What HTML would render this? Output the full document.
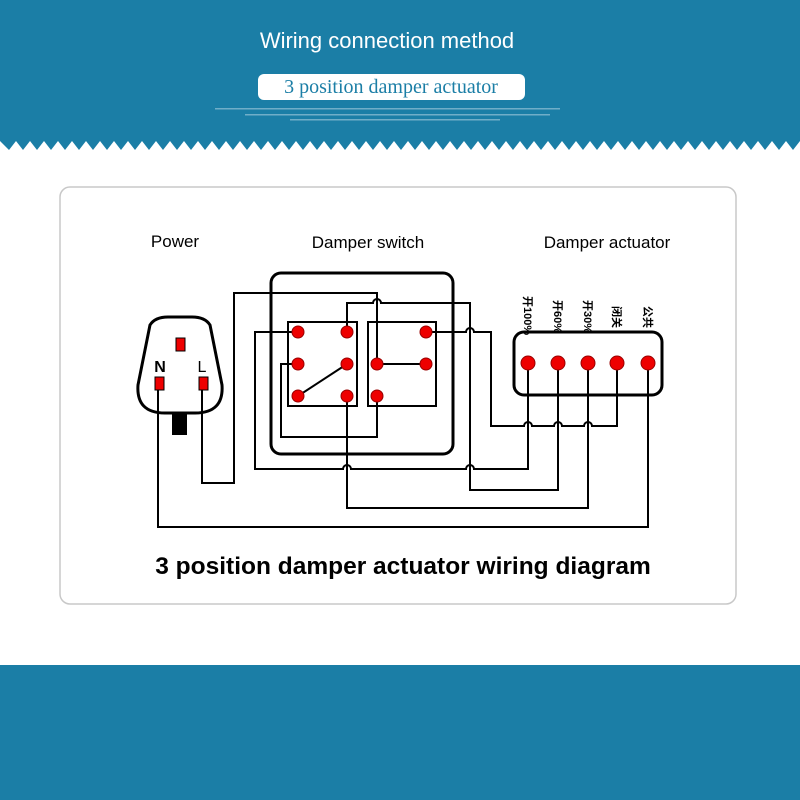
<!DOCTYPE html>
<html><head><meta charset="utf-8"><style>
body{margin:0;width:800px;height:800px;background:#fff;overflow:hidden;font-family:"Liberation Sans",sans-serif}
</style></head><body>
<svg width="800" height="800" xmlns="http://www.w3.org/2000/svg" style="position:absolute;left:0;top:0">
<rect x="0" y="0" width="800" height="141" fill="#1b7ea6"/>
<path id="teeth" d="" fill="#1b7ea6"/>
<g fill="#1b7ea6">
<polygon points="0,140 800,140 800,141 793,150 786,141 779,150 772,141 765,150 758,141 751,150 744,141 737,150 730,141 723,150 716,141 709,150 702,141 695,150 688,141 681,150 674,141 667,150 660,141 653,150 646,141 639,150 632,141 625,150 618,141 611,150 604,141 597,150 590,141 583,150 576,141 569,150 562,141 555,150 548,141 541,150 534,141 527,150 520,141 513,150 506,141 499,150 492,141 485,150 478,141 471,150 464,141 457,150 450,141 443,150 436,141 429,150 422,141 415,150 408,141 401,150 394,141 387,150 380,141 373,150 366,141 359,150 352,141 345,150 338,141 331,150 324,141 317,150 310,141 303,150 296,141 289,150 282,141 275,150 268,141 261,150 254,141 247,150 240,141 233,150 226,141 219,150 212,141 205,150 198,141 191,150 184,141 177,150 170,141 163,150 156,141 149,150 142,141 135,150 128,141 121,150 114,141 107,150 100,141 93,150 86,141 79,150 72,141 65,150 58,141 51,150 44,141 37,150 30,141 23,150 16,141 9,150 0,141"/>
</g>
<rect x="0" y="665" width="800" height="135" fill="#1b7ea6"/>
<text x="387" y="48" font-size="22" fill="#fff" text-anchor="middle">Wiring connection method</text>
<rect x="258" y="74" width="267" height="26" rx="6" fill="#fff"/>
<text x="391" y="93" font-size="20" fill="#1b7ea6" text-anchor="middle" font-family="Liberation Serif,serif">3 position damper actuator</text>
<g fill="#a9cfe0" opacity="0.6"><rect x="215" y="108" width="345" height="1.5"/><rect x="245" y="114" width="305" height="1.5"/><rect x="290" y="119" width="210" height="1.5"/></g>
<rect x="60" y="187" width="676" height="417" rx="10" fill="#fff" stroke="#c8c8c8" stroke-width="1.5"/>
<g font-size="17" fill="#000" text-anchor="middle">
<text x="175" y="247">Power</text><text x="368" y="248">Damper switch</text><text x="607" y="248">Damper actuator</text></g>
<text x="403" y="574" font-size="24.5" font-weight="bold" text-anchor="middle">3 position damper actuator wiring diagram</text>
<path d="M150,325 Q155,317 168,317 L192,317 Q205,317 210,325 L222,385 Q224,413 195,413 L165,413 Q136,413 138,385 Z" fill="#fff" stroke="#000" stroke-width="3"/>
<rect x="172" y="413" width="15" height="22" fill="#000"/>
<g fill="#e00" stroke="#000" stroke-width="1"><rect x="176" y="338" width="9" height="13"/><rect x="155" y="377" width="9" height="13"/><rect x="199" y="377" width="9" height="13"/></g>
<text x="160" y="372" font-size="16" font-weight="bold" text-anchor="middle">N</text>
<text x="202" y="372" font-size="16" text-anchor="middle">L</text>
<rect x="271" y="273" width="182" height="181" rx="10" fill="none" stroke="#000" stroke-width="3"/>
<g fill="none" stroke="#000" stroke-width="2">
<rect x="288" y="322" width="69" height="84"/><rect x="368" y="322" width="68" height="84"/>
<line x1="298" y1="396" x2="347" y2="364"/><line x1="377" y1="364" x2="426" y2="364"/>
<path d="M158,390 V527 H648 V363"/>
<path d="M202,390 V483 H234 V293 H377 V364"/>
<path d="M347,332 V303 H373 a4,4 0 0 1 8,0 H470 V490 H558 V363"/>
<path d="M426,332 H466 a4,4 0 0 1 8,0 H491 V426 H524 a4,4 0 0 1 8,0 H554 a4,4 0 0 1 8,0 H584 a4,4 0 0 1 8,0 H617 V363"/>
<path d="M298,332 H255 V469 H343 a4,4 0 0 1 8,0 H466 a4,4 0 0 1 8,0 H528 V363"/>
<path d="M298,364 H281 V437 H377 V396"/>
<path d="M347,396 V508 H588 V363"/>
</g>
<rect x="514" y="332" width="148" height="63" rx="10" fill="#fff" stroke="#000" stroke-width="3"/>
<g stroke="#000" stroke-width="2"><line x1="528" y1="363" x2="528" y2="426"/><line x1="558" y1="363" x2="558" y2="426"/><line x1="588" y1="363" x2="588" y2="426"/><line x1="617" y1="363" x2="617" y2="426"/><line x1="648" y1="363" x2="648" y2="527"/></g>
<g fill="#e00" stroke="#900" stroke-width="1">
<circle cx="298" cy="332" r="6"/><circle cx="347" cy="332" r="6"/><circle cx="298" cy="364" r="6"/><circle cx="347" cy="364" r="6"/><circle cx="298" cy="396" r="6"/><circle cx="347" cy="396" r="6"/>
<circle cx="426" cy="332" r="6"/><circle cx="377" cy="364" r="6"/><circle cx="426" cy="364" r="6"/><circle cx="377" cy="396" r="6"/>
<circle cx="528" cy="363" r="7"/><circle cx="558" cy="363" r="7"/><circle cx="588" cy="363" r="7"/><circle cx="617" cy="363" r="7"/><circle cx="648" cy="363" r="7"/></g>
<g font-size="11" font-weight="bold" font-family="Liberation Sans,'Noto Sans CJK SC',sans-serif">
<text transform="translate(524,296) rotate(90)">开100%</text>
<text transform="translate(554,300) rotate(90)">开60%</text>
<text transform="translate(584,300) rotate(90)">开30%</text>
<text transform="translate(613,306) rotate(90)">闭关</text>
<text transform="translate(644,306) rotate(90)">公共</text></g>
</svg>
</body></html>
